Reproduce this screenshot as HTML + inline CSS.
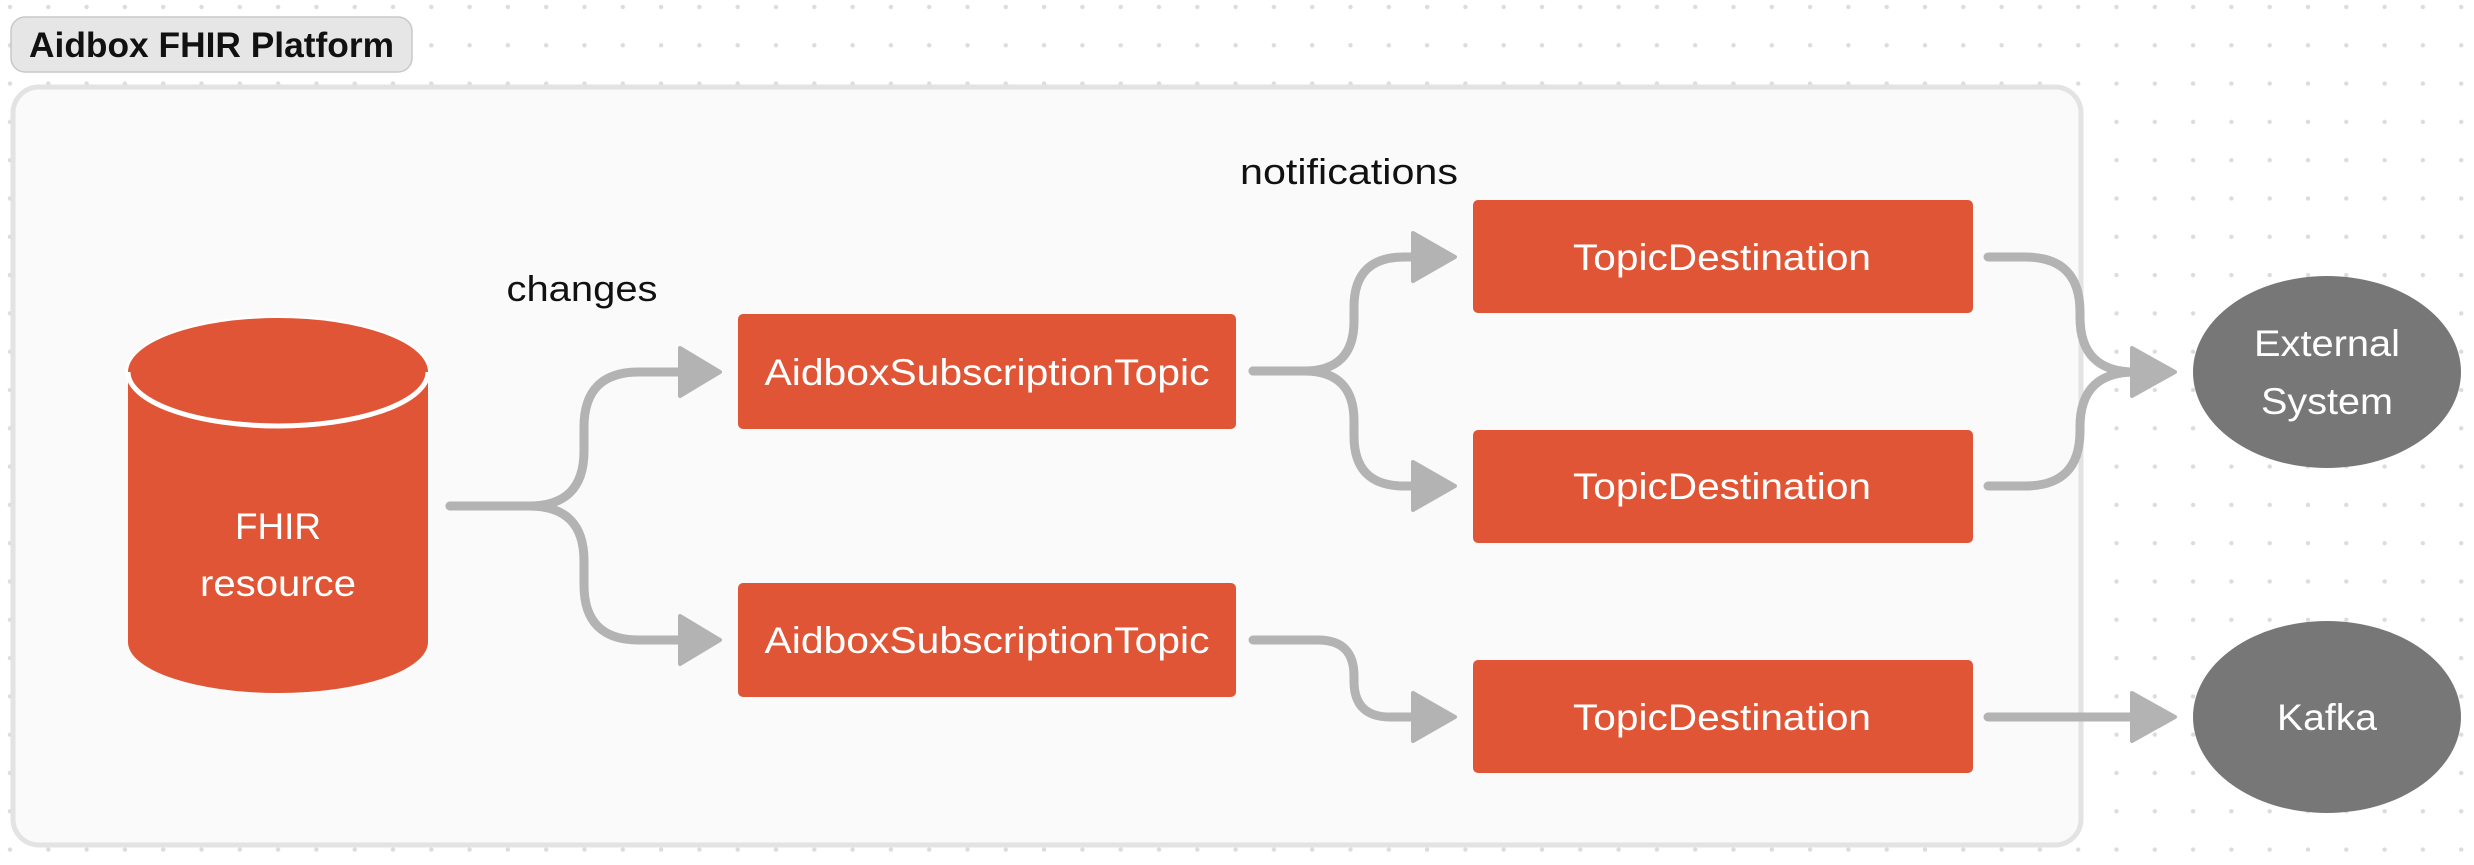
<!DOCTYPE html>
<html><head><meta charset="utf-8"><style>
html,body{margin:0;padding:0;background:#fff;}
svg{display:block;}
text{font-family:"Liberation Sans",Arial,sans-serif;}
</style></head><body>
<svg width="2474" height="865" viewBox="0 0 2474 865" xmlns="http://www.w3.org/2000/svg">
<defs>
<pattern id="dots" x="-9" y="-12" width="38.3" height="38.3" patternUnits="userSpaceOnUse">
<circle cx="19" cy="19" r="2.2" fill="#dcdcdc"/>
</pattern>
</defs>
<rect width="2474" height="865" fill="#fff"/>
<rect width="2474" height="865" fill="url(#dots)"/>
<rect x="11" y="17" width="401" height="55" rx="14" fill="#e6e6e6" stroke="#c8c8c8" stroke-width="1.5"/>
<text x="29" y="57" font-size="35" font-weight="bold" fill="#111" textLength="365" lengthAdjust="spacingAndGlyphs">Aidbox FHIR Platform</text>
<rect x="13" y="87" width="2068" height="758" rx="26" fill="#fafafa" stroke="#e3e3e3" stroke-width="5"/>
<path d="M128,372 V642 A150,51 0 0 0 428,642 V372 Z" fill="#e05535"/>
<ellipse cx="278" cy="372" rx="150" ry="54" fill="#e05535" stroke="#fff" stroke-width="5"/>
<path d="M128,372 A150,54 0 0 1 428,372" fill="#e05535"/>
<text x="278" y="539" font-size="37" fill="#fff" text-anchor="middle" textLength="86" lengthAdjust="spacingAndGlyphs">FHIR</text>
<text x="278" y="596" font-size="37" fill="#fff" text-anchor="middle" textLength="156" lengthAdjust="spacingAndGlyphs">resource</text>
<text x="582" y="301" font-size="36" fill="#111" text-anchor="middle" textLength="151" lengthAdjust="spacingAndGlyphs">changes</text>
<text x="1240" y="184" font-size="36" fill="#111" textLength="218" lengthAdjust="spacingAndGlyphs">notifications</text>
<g fill="#e05535">
<rect x="738" y="314" width="498" height="115" rx="5"/>
<rect x="738" y="583" width="498" height="114" rx="5"/>
<rect x="1473" y="200" width="500" height="113" rx="5"/>
<rect x="1473" y="430" width="500" height="113" rx="5"/>
<rect x="1473" y="660" width="500" height="113" rx="5"/>
</g>
<g fill="#fff" font-size="37" text-anchor="middle" lengthAdjust="spacingAndGlyphs">
<text x="987" y="385" textLength="445" lengthAdjust="spacingAndGlyphs">AidboxSubscriptionTopic</text>
<text x="987" y="653" textLength="445" lengthAdjust="spacingAndGlyphs">AidboxSubscriptionTopic</text>
<text x="1722" y="270" textLength="298" lengthAdjust="spacingAndGlyphs">TopicDestination</text>
<text x="1722" y="499" textLength="298" lengthAdjust="spacingAndGlyphs">TopicDestination</text>
<text x="1722" y="730" textLength="298" lengthAdjust="spacingAndGlyphs">TopicDestination</text>
</g>
<ellipse cx="2327" cy="372" rx="134" ry="96" fill="#777"/>
<ellipse cx="2327" cy="717" rx="134" ry="96" fill="#777"/>
<g fill="#fff" font-size="37" text-anchor="middle">
<text x="2327" y="356" textLength="146" lengthAdjust="spacingAndGlyphs">External</text>
<text x="2327" y="414" textLength="132" lengthAdjust="spacingAndGlyphs">System</text>
<text x="2327" y="730" textLength="100" lengthAdjust="spacingAndGlyphs">Kafka</text>
</g>
<g fill="none" stroke="#b3b3b3" stroke-width="9" stroke-linecap="round" stroke-linejoin="round">
<path d="M450,506 H529 Q584,506 584,451 V427 Q584,372 639,372 H682"/>
<path d="M450,506 H529 Q584,506 584,561 V585 Q584,640 639,640 H682"/>
<path d="M1253,371 H1304 Q1354,371 1354,321 V307 Q1354,257 1404,257 H1415"/>
<path d="M1253,371 H1304 Q1354,371 1354,421 V436 Q1354,486 1404,486 H1415"/>
<path d="M1253,640 H1318 Q1354,640 1354,676 V681 Q1354,717 1390,717 H1415"/>
<path d="M1988,257 H2025 Q2080,257 2080,312 V317 Q2080,372 2135,372"/>
<path d="M1988,486 H2025 Q2080,486 2080,431 V427 Q2080,372 2135,372"/>
<path d="M1988,717 H2135"/>
</g>
<g fill="#b3b3b3" stroke="#b3b3b3" stroke-width="4" stroke-linejoin="round">
<polygon points="680,348 720,372 680,396"/>
<polygon points="680,616 720,640 680,664"/>
<polygon points="1413,233 1455,257 1413,281"/>
<polygon points="1413,462 1455,486 1413,510"/>
<polygon points="1413,693 1455,717 1413,741"/>
<polygon points="2132,348 2175,372 2132,396"/>
<polygon points="2132,693 2175,717 2132,741"/>
</g>
</svg>
</body></html>
